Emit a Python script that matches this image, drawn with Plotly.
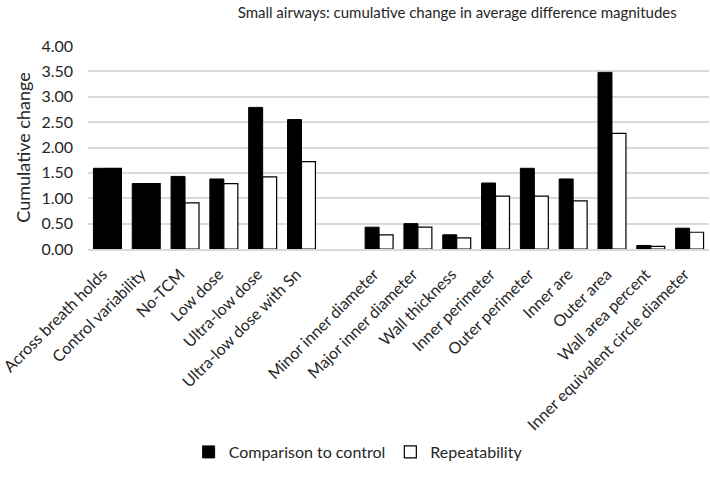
import plotly.graph_objects as go

# -----------------------------
# Data
# -----------------------------
categories = [
    "Across breath holds", "Control variability", "No-TCM", "Low dose",
    "Ultra-low dose", "Ultra-low dose with Sn", " ",
    "Minor inner diameter", "Major inner diameter", "Wall thickness",
    "Inner perimeter", "Outer perimeter", "Inner are", "Outer area",
    "Wall area percent", "Inner equivalent circle diameter",
]
comparison = [1.59, 1.29, 1.43, 1.38, 2.79, 2.55, None,
              0.43, 0.50, 0.28, 1.30, 1.59, 1.38, 3.48, 0.07, 0.41]
repeatability = [1.59, 1.29, 0.91, 1.29, 1.42, 1.72, None,
                 0.28, 0.43, 0.22, 1.04, 1.04, 0.95, 2.28, 0.05, 0.33]
y_ticks = [0, 0.5, 1.0, 1.5, 2.0, 2.5, 3.0, 3.5, 4.0]

FONT = "Lato"
TXT = "#262626"

# the first two groups are a single black block in the source chart
rep_fill = ["black" if i < 2 else "white" for i in range(len(categories))]

fig = go.Figure()
fig.add_trace(go.Bar(
    x=categories, y=comparison, name="Comparison to control",
    offsetgroup="cmp",
    marker=dict(color="black", line=dict(color="black", width=1)),
))
fig.add_trace(go.Bar(
    x=categories, y=repeatability, name="Repeatability", showlegend=False,
    offsetgroup="rep",
    marker=dict(color=rep_fill, line=dict(color="black", width=1.2)),
))
# legend entry only (white swatch), sits in the repeatability slot with no value
fig.add_trace(go.Bar(
    x=[categories[0]], y=[None], name="Repeatability", showlegend=True,
    offsetgroup="rep",
    marker=dict(color="white", line=dict(color="black", width=1.2)),
))

fig.update_layout(
    width=710, height=491,
    margin=dict(l=88, r=1, t=46, b=242, autoexpand=False),
    paper_bgcolor="white", plot_bgcolor="white",
    barmode="group", bargap=0.28, bargroupgap=0,
    font=dict(family=FONT, size=16, color=TXT),
    title=dict(
        text="Small airways: cumulative change in average difference magnitudes",
        x=0.644, xanchor="center", y=0.975, yanchor="middle",
        font=dict(family=FONT, size=15, color=TXT),
    ),
    legend=dict(
        orientation="h", x=0.435, xanchor="center", y=-1.0, yanchor="middle",
        font=dict(family=FONT, size=16, color=TXT), itemwidth=30,
        traceorder="normal",
    ),
    showlegend=True,
    hovermode=False,
)
fig.update_xaxes(
    tickangle=-45, showgrid=False, showline=True, linecolor="#d9d9d9",
    linewidth=1.5, ticks="", automargin=False,
    ticklabelstandoff=8, ticklabelshift=-5,
    tickfont=dict(family=FONT, size=16, color=TXT),
)
fig.update_yaxes(
    range=[0, 4.0], tickvals=y_ticks, tickformat=".2f",
    showgrid=True, gridcolor="#d9d9d9", gridwidth=1.5, zeroline=False,
    showline=False, ticks="", automargin=False, ticklabelstandoff=14,
    tickfont=dict(family=FONT, size=16, color=TXT),
    title=dict(text="Cumulative change", standoff=6,
               font=dict(family=FONT, size=18, color=TXT)),
)

fig.write_html(
    "out.html",
    config={"displayModeBar": False},
    post_script="document.body.style.margin='0';document.body.style.overflow='hidden';",
)
